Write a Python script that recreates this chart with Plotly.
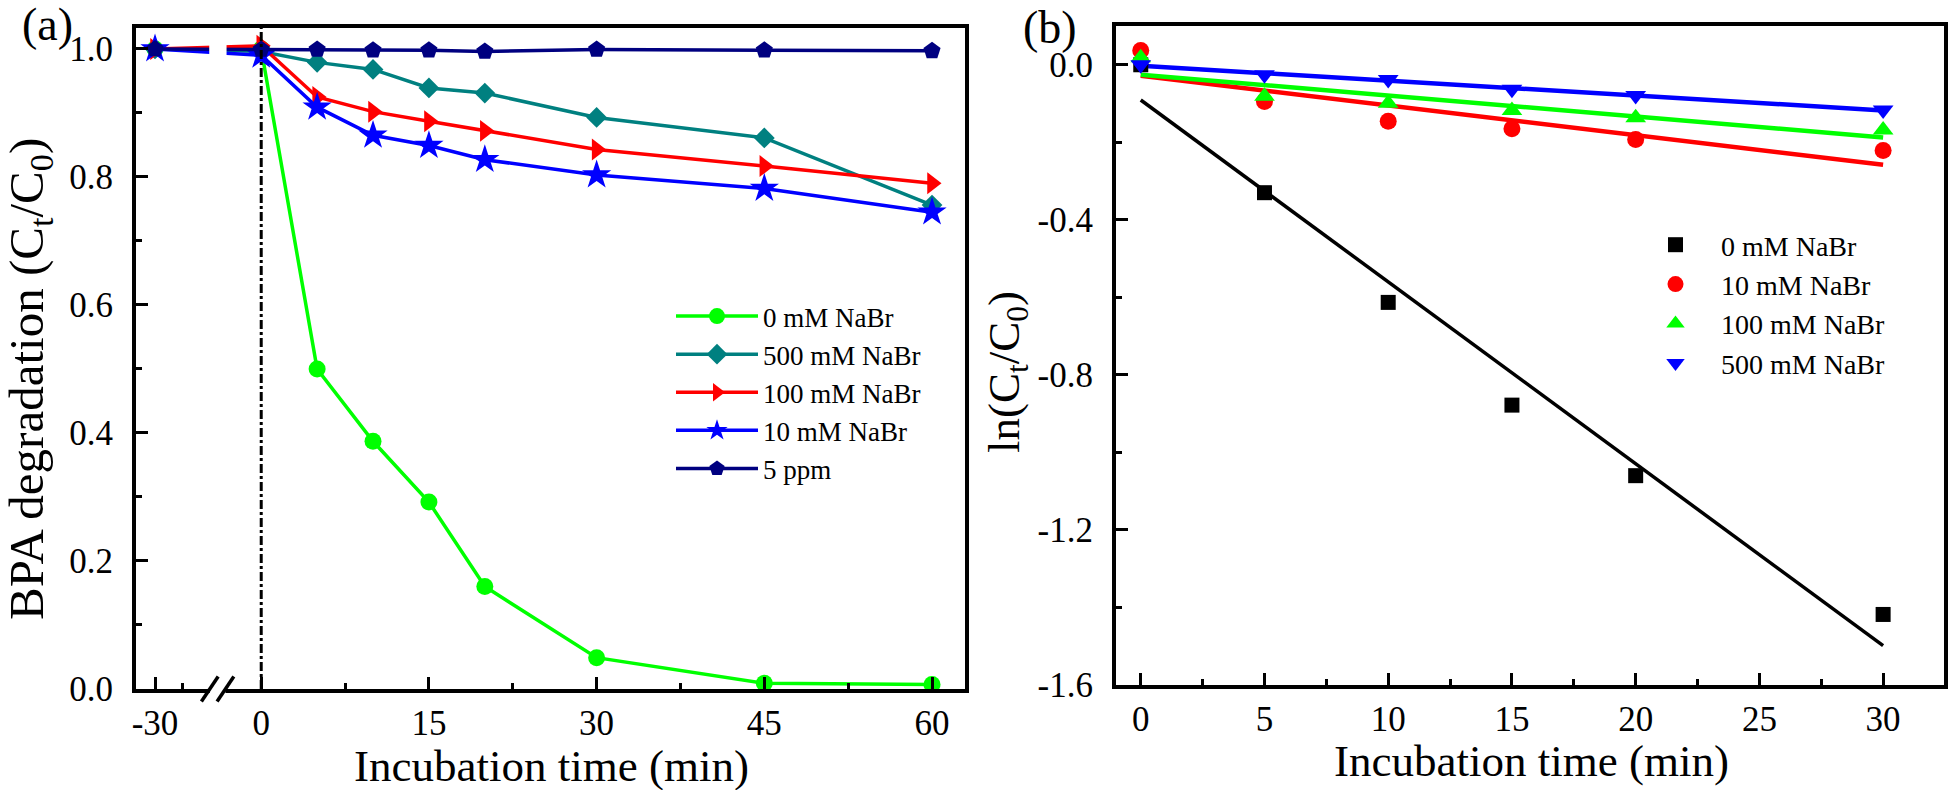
import numpy as np
import plotly.graph_objects as go

W, H = 1948, 790
FONT = "Liberation Serif"

# ---------------- Panel (a) data ----------------
time_a = [-30, 0, 5, 10, 15, 20, 30, 45, 60]
bpa_0mM = [1.0, 1.0, 0.500, 0.387, 0.292, 0.160, 0.049, 0.009, 0.007]
bpa_500mM = [1.0, 0.996, 0.979, 0.968, 0.939, 0.931, 0.893, 0.861, 0.756]
bpa_100mM = [1.0, 1.005, 0.925, 0.902, 0.887, 0.872, 0.843, 0.817, 0.790]
bpa_10mM = [1.0, 0.990, 0.909, 0.865, 0.849, 0.827, 0.803, 0.782, 0.745]
bpa_5ppm = [1.0, 0.999, 0.999, 0.998, 0.998, 0.996, 0.999, 0.998, 0.997]

a_xtick_vals = [-30, 0, 15, 30, 45, 60]
a_xtick_text = ["-30", "0", "15", "30", "45", "60"]
a_xminor_vals = [-27.5, 7.5, 22.5, 37.5, 52.5]
a_ytick_vals = [0.0, 0.2, 0.4, 0.6, 0.8, 1.0]
a_ytick_text = ["0.0", "0.2", "0.4", "0.6", "0.8", "1.0"]
a_yminor_vals = [0.1, 0.3, 0.5, 0.7, 0.9]

# ---------------- Panel (b) data ----------------
time_b = [0, 5, 10, 15, 20, 30]
ln_0mM = [0.0, -0.330, -0.613, -0.878, -1.060, -1.418]
ln_10mM = [0.037, -0.095, -0.146, -0.165, -0.193, -0.221]
ln_100mM = [0.018, -0.081, -0.099, -0.118, -0.137, -0.168]
ln_500mM = [0.0, -0.026, -0.038, -0.063, -0.079, -0.117]

b_xtick_vals = [0, 5, 10, 15, 20, 25, 30]
b_xminor_vals = [2.5, 7.5, 12.5, 17.5, 22.5, 27.5]
b_ytick_vals = [0.0, -0.4, -0.8, -1.2, -1.6]
b_ytick_text = ["0.0", "-0.4", "-0.8", "-1.2", "-1.6"]
b_yminor_vals = [-0.2, -0.6, -1.0, -1.4]

# broken x axis in panel (a): negative times are shifted right
BREAK_SHIFT = 20.5
BREAK_AT = -24.4


def xa(t):
    return [v + BREAK_SHIFT if v < 0 else v for v in t]


def px(x):
    return x / W


def py(y):
    return 1 - y / H


fig = go.Figure()

series_a = [
    ("0 mM NaBr", bpa_0mM, "#00FF00", "circle", 17),
    ("500 mM NaBr", bpa_500mM, "#008080", "diamond", 16),
    ("100 mM NaBr", bpa_100mM, "#FF0000", "triangle-right", 19),
    ("10 mM NaBr", bpa_10mM, "#0000FF", "star", 22),
    ("5 ppm", bpa_5ppm, "#000080", "pentagon", 18),
]
for name, vals, col, sym, sz in series_a:
    fig.add_trace(go.Scatter(
        x=xa(time_a), y=vals, name=name, mode="lines+markers",
        line=dict(color=col, width=3.5),
        marker=dict(symbol=sym, size=sz, color=col, line=dict(width=0)),
        xaxis="x", yaxis="y", legend="legend"))

series_b = [
    ("0 mM NaBr", ln_0mM, "#000000", "square", 15, 3.5),
    ("10 mM NaBr", ln_10mM, "#FF0000", "circle", 17, 4.5),
    ("100 mM NaBr", ln_100mM, "#00FF00", "triangle-up", 18, 4.5),
    ("500 mM NaBr", ln_500mM, "#0000FF", "triangle-down", 18, 4.5),
]
for name, vals, col, sym, sz, lw in series_b:
    k, b0 = np.polyfit(time_b, vals, 1)
    xf = [time_b[0], time_b[-1]]
    fig.add_trace(go.Scatter(
        x=xf, y=[k * v + b0 for v in xf], mode="lines",
        line=dict(color=col, width=lw), showlegend=False,
        xaxis="x2", yaxis="y2"))
for name, vals, col, sym, sz, lw in series_b:
    fig.add_trace(go.Scatter(
        x=time_b, y=vals, name=name, mode="markers",
        marker=dict(symbol=sym, size=sz, color=col, line=dict(width=0)),
        xaxis="x2", yaxis="y2", legend="legend2"))

axis_common = dict(
    showgrid=False, zeroline=False, showline=True, linecolor="black",
    linewidth=4, mirror=True, ticks="inside", ticklen=12, tickwidth=3,
    tickcolor="black", tickfont=dict(family=FONT, size=35, color="black"),
    automargin=False,
)

fig.update_layout(
    width=W, height=H,
    margin=dict(l=0, r=0, t=0, b=0),
    paper_bgcolor="white", plot_bgcolor="white",
    font=dict(family=FONT, color="black"),
    xaxis=dict(domain=[px(136), px(965)], range=[-11.2, 62.95],
               tickmode="array", tickvals=xa(a_xtick_vals), ticktext=a_xtick_text,
               minor=dict(tickmode="array", tickvals=xa(a_xminor_vals), ticks="inside",
                          ticklen=6, tickwidth=3, tickcolor="black"),
               anchor="y", **axis_common),
    yaxis=dict(domain=[py(689), py(28)], range=[0, 1.0327],
               tickmode="array", tickvals=a_ytick_vals, ticktext=a_ytick_text,
               ticklabelstandoff=12,
               minor=dict(tickmode="array", tickvals=a_yminor_vals, ticks="inside",
                          ticklen=6, tickwidth=3, tickcolor="black"),
               anchor="x", **axis_common),
    xaxis2=dict(domain=[px(1116), px(1944)], range=[-1.0, 32.46],
                tickmode="array", tickvals=b_xtick_vals,
                ticktext=[str(v) for v in b_xtick_vals],
                minor=dict(tickmode="array", tickvals=b_xminor_vals, ticks="inside",
                           ticklen=6, tickwidth=3, tickcolor="black"),
                anchor="y2", **axis_common),
    yaxis2=dict(domain=[py(685), py(26)], range=[-1.6, 0.1],
                tickmode="array", tickvals=b_ytick_vals, ticktext=b_ytick_text,
                ticklabelstandoff=12,
                minor=dict(tickmode="array", tickvals=b_yminor_vals, ticks="inside",
                           ticklen=6, tickwidth=3, tickcolor="black"),
                anchor="x2", **axis_common),
    legend=dict(x=px(671), y=py(292), xanchor="left", yanchor="top",
                font=dict(family=FONT, size=27, color="black"),
                bgcolor="rgba(0,0,0,0)", itemwidth=82, tracegroupgap=0),
    legend2=dict(x=px(1630), y=py(220), xanchor="left", yanchor="top",
                 font=dict(family=FONT, size=28, color="black"),
                 bgcolor="rgba(0,0,0,0)", itemwidth=81, tracegroupgap=0),
    showlegend=True,
)

shapes = []
# vertical dash-dot line at t = 0
shapes.append(dict(type="line", xref="x", yref="y domain", x0=0, x1=0, y0=0, y1=1,
                   line=dict(color="black", width=3, dash="dashdot"), layer="above"))
# gap in the curves at the axis break
shapes.append(dict(type="rect", xref="x", yref="y", x0=xa([BREAK_AT])[0] - 0.75,
                   x1=xa([BREAK_AT])[0] + 0.8, y0=0.95, y1=1.02,
                   fillcolor="white", line=dict(width=0), layer="above"))
# break marks on the x axis
shapes.append(dict(type="rect", xref="x", yref="y domain", x0=xa([BREAK_AT])[0] - 0.7,
                   x1=xa([BREAK_AT])[0] + 0.7, y0=-0.008, y1=0.008,
                   fillcolor="white", line=dict(width=0), layer="above"))
for off in (-0.7, 0.7):
    xc = xa([BREAK_AT])[0] + off
    shapes.append(dict(type="line", xref="x", yref="y domain",
                       x0=xc - 0.75, x1=xc + 0.75, y0=-0.019, y1=0.019,
                       line=dict(color="black", width=3.5), layer="above"))
fig.update_layout(shapes=shapes)

ann = []
ann.append(dict(text="(a)", x=px(20), y=py(24), xref="paper", yref="paper",
                xanchor="left", yanchor="middle", showarrow=False,
                font=dict(family=FONT, size=46, color="black")))
ann.append(dict(text="(b)", x=px(1021), y=py(28), xref="paper", yref="paper",
                xanchor="left", yanchor="middle", showarrow=False,
                font=dict(family=FONT, size=46, color="black")))
ann.append(dict(text="Incubation time (min)", x=px(551), y=py(766), xref="paper",
                yref="paper", xanchor="center", yanchor="middle", showarrow=False,
                font=dict(family=FONT, size=45, color="black")))
ann.append(dict(text="Incubation time (min)", x=px(1531), y=py(761), xref="paper",
                yref="paper", xanchor="center", yanchor="middle", showarrow=False,
                font=dict(family=FONT, size=45, color="black")))
ann.append(dict(text="BPA degradation (C<sub>t</sub>/C<sub>0</sub>)", x=px(29),
                y=py(379), xref="paper", yref="paper", xanchor="center",
                yanchor="middle", textangle=-90, showarrow=False,
                font=dict(family=FONT, size=49, color="black")))
ann.append(dict(text="ln(C<sub>t</sub>/C<sub>0</sub>)", x=px(1007), y=py(372),
                xref="paper", yref="paper", xanchor="center", yanchor="middle",
                textangle=-90, showarrow=False,
                font=dict(family=FONT, size=45, color="black")))
fig.update_layout(annotations=ann)

fig.write_html("out.html", config={"displayModeBar": False},
               post_script="document.body.style.margin='0';document.body.style.overflow='hidden';")
